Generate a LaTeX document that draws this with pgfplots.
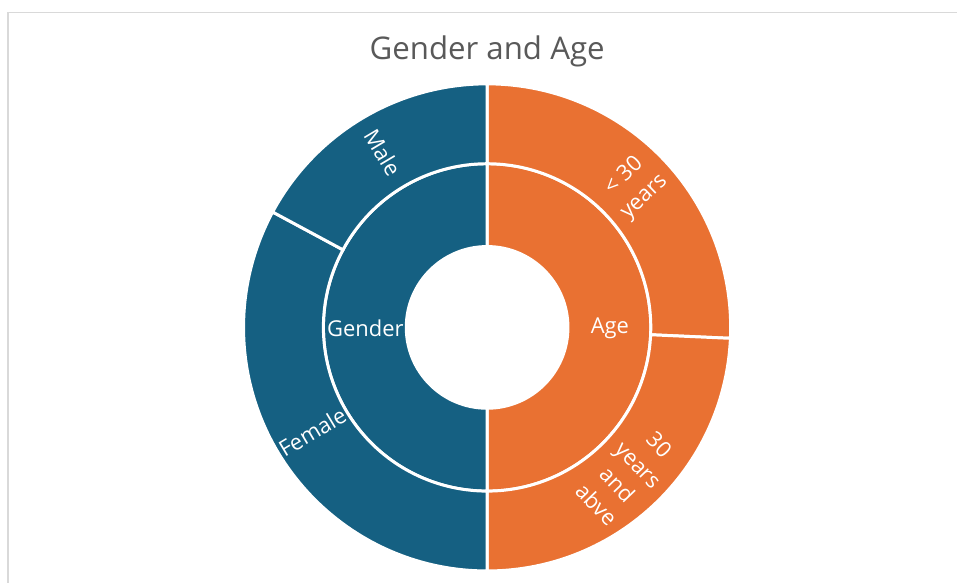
\documentclass[border=0pt]{standalone}
\usepackage{pgfplots}
\pgfplotsset{compat=1.18}
\usepackage{pgfplotstable}
\usepackage{fontspec}
\setmainfont{Open Sans}
\definecolor{cblue}{HTML}{156082}
\definecolor{corange}{HTML}{E97132}
\definecolor{ctitle}{HTML}{595959}
\definecolor{cframe}{HTML}{D9D9D9}

% leaf values of the sunburst (clockwise from 12 o'clock)
\pgfplotstableread{
group label value
Age Less30 18
Age Over30 17
Gender Female 23
Gender Male 12
}\sunburst

\newcommand\sector[5]{%
  \fill[#5, draw=white, line width=1.7pt]
    (axis cs:{#2*cos(#3)},{#2*sin(#3)})
    arc[start angle=#3, end angle=#4, radius=#2*0.02cm]
    -- (axis cs:{#1*cos(#4)},{#1*sin(#4)})
    arc[start angle=#4, end angle=#3, radius=#1*0.02cm] -- cycle;}

\begin{document}
\begin{tikzpicture}
\pgfplotstablegetelem{0}{value}\of\sunburst \pgfmathsetmacro\vA{\pgfplotsretval}
\pgfplotstablegetelem{1}{value}\of\sunburst \pgfmathsetmacro\vB{\pgfplotsretval}
\pgfplotstablegetelem{2}{value}\of\sunburst \pgfmathsetmacro\vC{\pgfplotsretval}
\pgfplotstablegetelem{3}{value}\of\sunburst \pgfmathsetmacro\vD{\pgfplotsretval}
\pgfmathsetmacro\T{\vA+\vB+\vC+\vD}
\pgfmathsetmacro\aA{90-360*\vA/\T}
\pgfmathsetmacro\aB{\aA-360*\vB/\T}
\pgfmathsetmacro\aC{\aB-360*\vC/\T}
\pgfmathsetmacro\aD{\aC-360*\vD/\T}
\pgfmathsetmacro\mA{(90+\aA)/2}
\pgfmathsetmacro\mB{(\aA+\aB)/2}
\pgfmathsetmacro\mC{(\aB+\aC)/2}
\pgfmathsetmacro\mD{(\aC+\aD)/2}
\pgfmathsetmacro\rC{\mC+180}
\pgfmathsetmacro\rD{\mD+180}
\begin{axis}[
  x=0.02cm, y=0.02cm,
  xmin=-488, xmax=470, ymin=-255, ymax=328,
  hide axis, clip=false,
]
\path (axis cs:-488,-255) rectangle (axis cs:470,328);
\draw[cframe, line width=0.85pt] (axis cs:-480,-256) -- (axis cs:-480,315.5) -- (axis cs:471,315.5);
% inner ring
\sector{81}{164}{90}{\aB}{corange}
\sector{81}{164}{\aB}{\aD}{cblue}
% outer ring
\sector{164}{244}{90}{\aA}{corange}
\sector{164}{244}{\aA}{\aB}{corange}
\sector{164}{244}{\aB}{\aC}{cblue}
\sector{164}{244}{\aC}{\aD}{cblue}
% title
\node[ctitle, font=\fontsize{17.8}{20}\selectfont] at (axis cs:0,277) {Gender and Age};
% labels
\node[white, font=\fontsize{12.5}{16}\selectfont] at (axis cs:-122,-1) {Gender};
\node[white, font=\fontsize{12.5}{16}\selectfont] at (axis cs:123,-1) {Age};
\node[white, font=\fontsize{12.5}{16.5}\selectfont, align=center, rotate=\mA] at (axis cs:{204*cos(\mA)},{204*sin(\mA)}) {< 30\\years};
\node[white, font=\fontsize{12.5}{16.5}\selectfont, align=center, rotate=\mB] at (axis cs:{204*cos(\mB)},{204*sin(\mB)}) {30\\years\\and\\abve};
\node[white, font=\fontsize{12.5}{16}\selectfont, rotate=\rC] at (axis cs:{204*cos(\mC)},{204*sin(\mC)}) {Female};
\node[white, font=\fontsize{12.5}{16}\selectfont, rotate=\rD] at (axis cs:{204*cos(\mD)},{204*sin(\mD)}) {Male};
\end{axis}
\end{tikzpicture}
\end{document}
